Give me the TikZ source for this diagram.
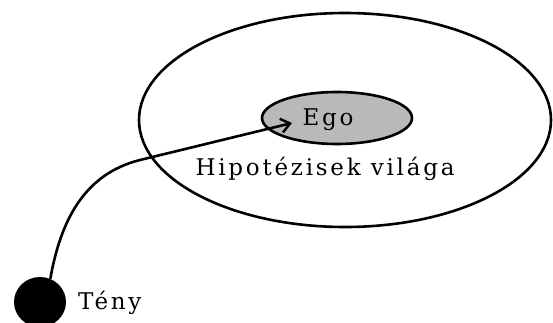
\documentclass[tikz,border=0pt]{standalone}
\usepackage{fontspec}
\setmainfont{DejaVu Serif}
\usetikzlibrary{arrows.meta,shapes.geometric}
\tikzset{
  ring/.style={draw, line width=2.6pt, ellipse},
  lbl/.style={font=\fontsize{23}{26}\selectfont\addfontfeatures{LetterSpace=12}, inner sep=0pt},
  conn/.style={line width=2.6pt, -{Straight Barb[length=9pt,width=14pt,line width=2.4pt]}}
}
\begin{document}
\begin{tikzpicture}[x=1pt,y=-1pt]
\useasboundingbox (0,0) rectangle (553,322);
\node[ring, minimum width=412pt, minimum height=214pt, inner sep=0pt] (world) at (345,120) {};
\node[ring, fill=gray!55, minimum width=150pt, minimum height=52pt, inner sep=0pt] (ego) at (337,118) {};
\node[lbl, anchor=base] (egotxt) at (328,125) {Ego};
\node[lbl, anchor=base] (hyp) at (325,175) {Hipotézisek világa};
\node[fill=black, ellipse, minimum width=52pt, minimum height=50pt, inner sep=0pt] (fact) at (40,302) {};
\node[lbl, anchor=base west] (facttxt) at (78,309) {Tény};
\coordinate (bend) at (140,160);
\coordinate (tip) at (292,123);
\draw[conn] (fact.66) to[out=80,in=194] (bend) -- (tip);
\end{tikzpicture}
\end{document}
